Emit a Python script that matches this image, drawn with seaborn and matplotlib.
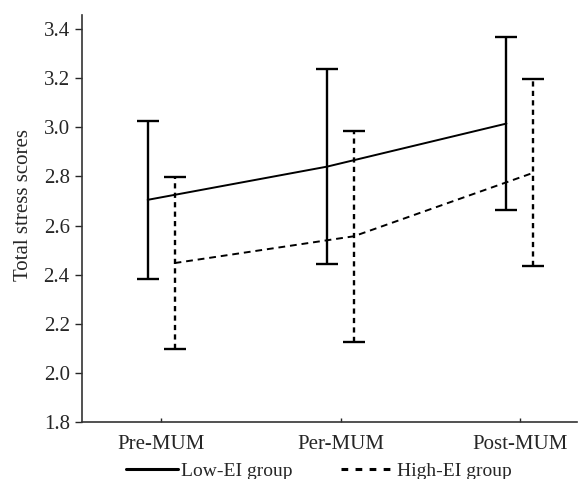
import numpy as np
import pandas as pd
import matplotlib
matplotlib.use("Agg")
import matplotlib.pyplot as plt
import seaborn as sns
from matplotlib.lines import Line2D

phases = ["Pre-MUM", "Per-MUM", "Post-MUM"]
low_mean = [2.705, 2.84, 3.015]
low_err = [0.32, 0.395, 0.352]
high_mean = [2.448, 2.557, 2.815]
high_err = [0.35, 0.428, 0.38]

sns.set_style("white")
plt.rcParams["font.family"] = ["Liberation Serif", "DejaVu Serif"]

offset = 0.075
x = np.arange(len(phases))
df = pd.DataFrame({
    "pos": np.concatenate([x - offset, x + offset]),
    "mean": low_mean + high_mean,
    "group": ["Low-EI group"] * 3 + ["High-EI group"] * 3,
})

fig, ax = plt.subplots(figsize=(5.79, 4.79), dpi=100)
fig.subplots_adjust(left=0.142, right=0.997, top=0.968, bottom=0.118)

# mean lines
sns.lineplot(data=df, x="pos", y="mean", style="group",
             dashes={"Low-EI group": "", "High-EI group": (3.5, 2.5)},
             color="black", lw=1.4, legend=False, ax=ax)

# error bars
eb = ax.errorbar(x - offset, low_mean, yerr=low_err, fmt="none",
                 ecolor="black", elinewidth=1.7, capsize=8, capthick=1.7)
eb2 = ax.errorbar(x + offset, high_mean, yerr=high_err, fmt="none",
                  ecolor="black", elinewidth=1.7, capsize=8, capthick=1.7)
for c in eb2[2]:
    c.set_linestyle((0, (2.2, 1.8)))

ax.set_xlim(-0.44, 2.32)
ax.set_ylim(1.8, 3.455)
ticks = np.arange(1.8, 3.41, 0.2)
ax.set_yticks(ticks)
ax.set_yticklabels([f"{v:.1f}" for v in ticks])
ax.set_xticks(x)
ax.set_xticklabels(phases)
ax.set_xlabel("")
ax.set_ylabel("Total stress scores", fontsize=15)
ax.yaxis.set_label_coords(-0.1, 0.535)
ax.tick_params(axis="y", direction="out", length=5, width=1, labelsize=15, left=True, pad=4)
ax.tick_params(axis="x", direction="in", length=3, width=1, labelsize=15, bottom=True, pad=9)
for s in ["top", "right"]:
    ax.spines[s].set_visible(False)
for s in ["left", "bottom"]:
    ax.spines[s].set_color("#333333")
    ax.spines[s].set_linewidth(1.2)

handles = [
    Line2D([], [], color="black", lw=2.2, ls="-"),
    Line2D([], [], color="black", lw=2.2, ls=(0, (2.2, 2.4))),
]
fig.legend(handles, ["Low-EI group", "High-EI group"], loc="center",
           bbox_to_anchor=(0.55, 0.017), ncol=2, frameon=False, fontsize=14,
           handlelength=2.7, handletextpad=0.15, columnspacing=2.5)

fig.savefig("out.png", dpi=100)
